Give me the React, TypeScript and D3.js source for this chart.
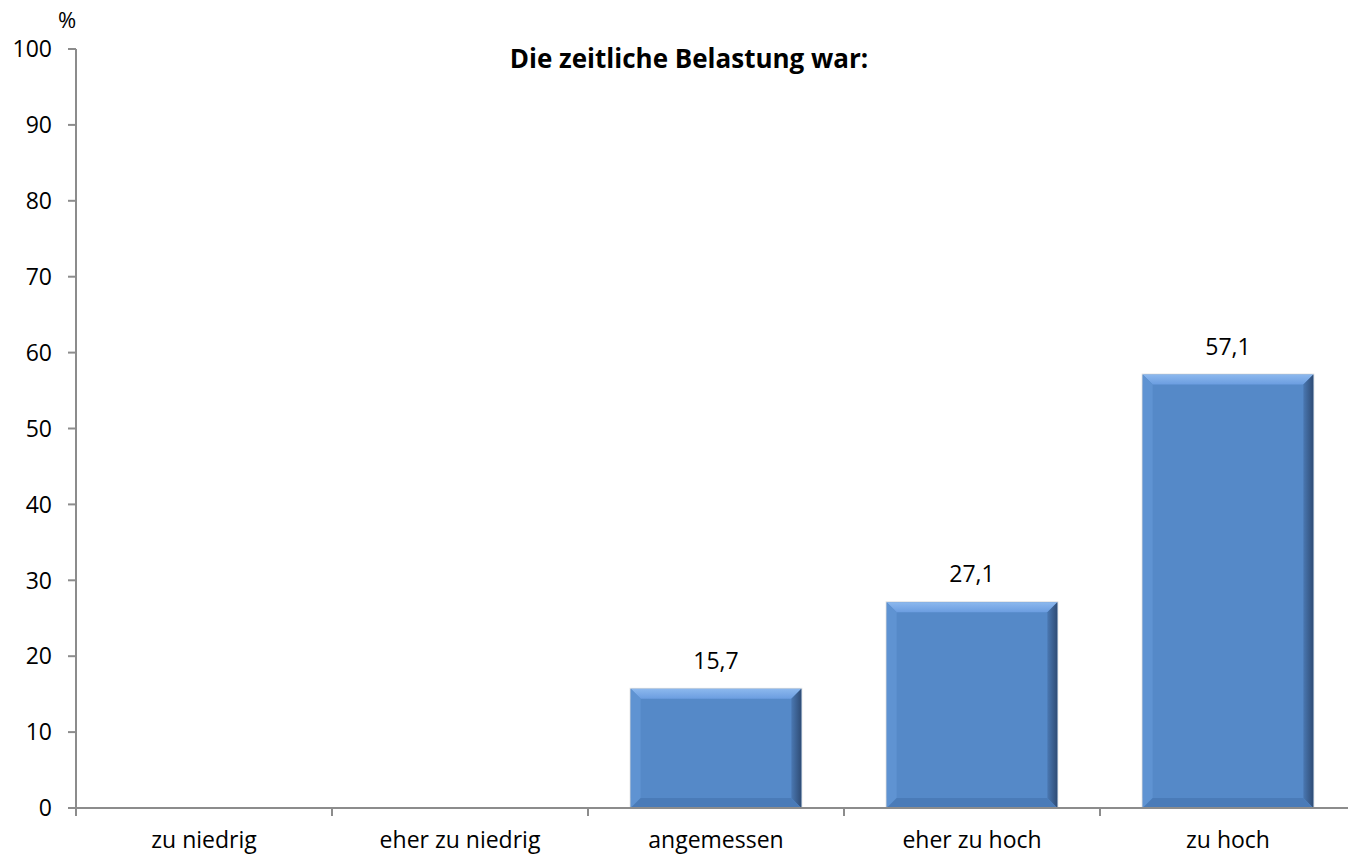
import React from 'react';
import * as d3 from 'd3';

const categories = ['zu niedrig', 'eher zu niedrig', 'angemessen', 'eher zu hoch', 'zu hoch'];
const values = [0, 0, 15.7, 27.1, 57.1];
const yTicks = [0, 10, 20, 30, 40, 50, 60, 70, 80, 90, 100];

const WIDTH = 1348;
const HEIGHT = 856;
const LEFT = 76;
const RIGHT = 1356; // axis runs a little past the picture edge
const TOP = 49;
const BOTTOM = 808;
const BEVEL = 10;
const FONT = '"Open Sans", sans-serif';
const FS = 23;
const AXIS = '#8c8c8c';

const fmt = d3.formatLocale({ decimal: ',', thousands: '.', grouping: [3], currency: ['', ' €'] }).format('.1f');

const App: React.FC = () => {
  const x = d3.scaleBand<string>()
    .domain(categories)
    .range([LEFT, RIGHT])
    .paddingInner(1 / 3)
    .paddingOuter(1 / 6);
  const y = d3.scaleLinear().domain([0, 100]).range([BOTTOM, TOP]);
  const step = x.step();
  const bounds = d3.range(categories.length + 1).map(i => LEFT + i * step);

  const bars = categories.map((c, i) => {
    const v = values[i];
    if (!v) return null;
    const x0 = x(c)!;
    const x1 = x0 + x.bandwidth();
    const y0 = y(v);
    const y1 = y(0);
    const b = BEVEL;
    const pts = (p: number[][]) => p.map(q => q.join(',')).join(' ');
    return (
      <g key={c}>
        <rect x={x0 - 1} y={y0 - 1} width={x1 - x0 + 2} height={y1 - y0 + 1} fill="#c9c9c9" opacity={0.6} />
        <rect x={x0} y={y0} width={x1 - x0} height={y1 - y0} fill="#5589c8" />
        <polygon points={pts([[x0, y0], [x1, y0], [x1 - b, y0 + b], [x0 + b, y0 + b]])} fill="url(#bevTop)" />
        <polygon points={pts([[x0, y0], [x0 + b, y0 + b], [x0 + b, y1 - b], [x0, y1]])} fill="#5f93d2" />
        <polygon points={pts([[x1, y0], [x1, y1], [x1 - b, y1 - b], [x1 - b, y0 + b]])} fill="url(#bevRight)" />
        <polygon points={pts([[x0, y1], [x0 + b, y1 - b], [x1 - b, y1 - b], [x1, y1]])} fill="#4a7bb8" />
        <text
          x={x0 + x.bandwidth() / 2}
          y={y0 - 20}
          textAnchor="middle"
          fontFamily={FONT}
          fontSize={FS}
          fill="#000"
        >
          {fmt(v)}
        </text>
      </g>
    );
  });

  return (
    <svg width={WIDTH} height={HEIGHT} style={{ position: 'absolute', left: 0, top: 0, background: '#fff' }}>
      <defs>
        <linearGradient id="bevTop" x1="0" y1="0" x2="0" y2="1">
          <stop offset="0" stopColor="#8cb8ee" />
          <stop offset="1" stopColor="#6b9de0" />
        </linearGradient>
        <linearGradient id="bevRight" x1="0" y1="0" x2="1" y2="0">
          <stop offset="0" stopColor="#4a78b2" />
          <stop offset="1" stopColor="#2f4c75" />
        </linearGradient>
      </defs>

      <text x={67} y={28} textAnchor="middle" fontFamily={FONT} fontSize={22} fill="#000">%</text>
      <text x={(LEFT + RIGHT) / 2 - 27} y={68} textAnchor="middle" fontFamily={FONT} fontSize={26} fontWeight="bold" fill="#000">
        Die zeitliche Belastung war:
      </text>

      {bars}

      <line x1={LEFT} x2={LEFT} y1={y(100)} y2={y(0)} stroke={AXIS} strokeWidth={2} />
      {yTicks.map(t => (
        <g key={t}>
          <line x1={LEFT - 8} x2={LEFT} y1={y(t)} y2={y(t)} stroke={AXIS} strokeWidth={2} />
          <text x={52} y={y(t)} dy="0.36em" textAnchor="end" fontFamily={FONT} fontSize={FS} fill="#000">{t}</text>
        </g>
      ))}

      <line x1={LEFT - 8} x2={RIGHT} y1={y(0)} y2={y(0)} stroke={AXIS} strokeWidth={2} />
      {bounds.map((bx, i) => (
        <line key={i} x1={bx} x2={bx} y1={y(0)} y2={y(0) + 8} stroke={AXIS} strokeWidth={2} />
      ))}
      {categories.map(c => (
        <text key={c} x={x(c)! + x.bandwidth() / 2} y={848} textAnchor="middle" fontFamily={FONT} fontSize={FS} fill="#000">
          {c}
        </text>
      ))}
    </svg>
  );
};

export default App;
